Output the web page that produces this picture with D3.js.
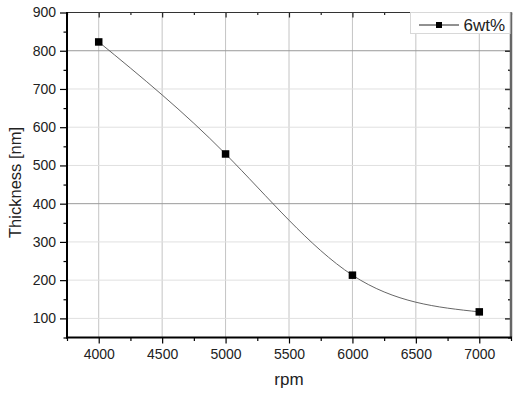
<!DOCTYPE html>
<html>
<head>
<meta charset="utf-8">
<script src="https://cdn.jsdelivr.net/npm/d3@7"></script>
<style>
  html, body { margin: 0; padding: 0; background: #fff; }
  svg { display: block; }
  text { font-family: "Liberation Sans", Arial, sans-serif; }
</style>
</head>
<body>
<svg id="chart" width="521" height="397"></svg>
<script>
// ---- data ----
const rpm = [4000, 5000, 6000, 7000];
const thickness = [823, 530, 213, 117];
const seriesName = "6wt%";
const xMajorTicks = [4000, 4500, 5000, 5500, 6000, 6500, 7000];
const xMinorTicks = [3750, 4250, 4750, 5250, 5750, 6250, 6750, 7250];
const yMajorTicks = [100, 200, 300, 400, 500, 600, 700, 800, 900];
const yMinorTicks = [50, 150, 250, 350, 450, 550, 650, 750, 850];
const yDarkGrid = [400, 800];
const xTitle = "rpm";
const yTitle = "Thickness [nm]";

// ---- layout ----
const L = 67, R = 511, T = 12.5, B = 337.5;
const svg = d3.select("#chart");
const x = d3.scaleLinear().domain([3750, 7250]).range([L, R]);
const y = d3.scaleLinear().domain([50, 900]).range([B, T]);

// gridlines
const grid = svg.append("g");
grid.selectAll("line.v").data(xMajorTicks).join("line")
  .attr("x1", d => x(d)).attr("x2", d => x(d))
  .attr("y1", T).attr("y2", B)
  .attr("stroke", "#c4c4c4").attr("stroke-width", 1);
grid.selectAll("line.h").data(yMajorTicks.filter(d => d < 900)).join("line")
  .attr("x1", L).attr("x2", R)
  .attr("y1", d => y(d)).attr("y2", d => y(d))
  .attr("stroke", d => yDarkGrid.includes(d) ? "#9a9a9a" : "#e0e0e0")
  .attr("stroke-width", 1);

// curve
const pts = rpm.map((r, i) => [r, thickness[i]]);
svg.append("path")
  .datum(pts)
  .attr("fill", "none")
  .attr("stroke", "#555")
  .attr("stroke-width", 0.9)
  .attr("d", d3.line().x(d => x(d[0])).y(d => y(d[1])).curve(d3.curveNatural));

// markers
const ms = 7.5;
svg.selectAll("rect.m").data(pts).join("rect")
  .attr("x", d => x(d[0]) - ms / 2).attr("y", d => y(d[1]) - ms / 2)
  .attr("width", ms).attr("height", ms).attr("fill", "#000");

// axes helper
function styleAxis(g, color, width) {
  g.select(".domain").remove();
  g.selectAll(".tick line").attr("stroke", color).attr("stroke-width", width);
  g.selectAll(".tick text").attr("fill", "#222").attr("font-size", "14px")
    .attr("font-family", "'Liberation Sans', Arial, sans-serif");
}

// left axis
const gl = svg.append("g").attr("transform", `translate(${L},0)`);
gl.call(d3.axisLeft(y).tickValues(yMajorTicks).tickSize(7).tickPadding(4).tickFormat(d3.format("d")));
styleAxis(gl, "#000", 1.2);
const glm = svg.append("g").attr("transform", `translate(${L},0)`);
glm.call(d3.axisLeft(y).tickValues(yMinorTicks).tickSize(3.5).tickFormat(""));
styleAxis(glm, "#000", 1.2);

// bottom axis
const gb = svg.append("g").attr("transform", `translate(0,${B})`);
gb.call(d3.axisBottom(x).tickValues(xMajorTicks).tickSize(6).tickPadding(6).tickFormat(d3.format("d")));
styleAxis(gb, "#000", 1.2);
const gbm = svg.append("g").attr("transform", `translate(0,${B})`);
gbm.call(d3.axisBottom(x).tickValues(xMinorTicks).tickSize(3.5).tickFormat(""));
styleAxis(gbm, "#000", 1.2);

// top axis (inward ticks)
const gt = svg.append("g").attr("transform", `translate(0,${T})`);
gt.call(d3.axisBottom(x).tickValues(xMajorTicks).tickSize(5).tickFormat(""));
styleAxis(gt, "#222", 1.2);
const gtm = svg.append("g").attr("transform", `translate(0,${T})`);
gtm.call(d3.axisBottom(x).tickValues(xMinorTicks).tickSize(2.5).tickFormat(""));
styleAxis(gtm, "#222", 1.2);

// right axis (inward ticks)
const gr = svg.append("g").attr("transform", `translate(${R},0)`);
gr.call(d3.axisLeft(y).tickValues(yMajorTicks).tickSize(6).tickFormat(""));
styleAxis(gr, "#333", 1.5);
const grm = svg.append("g").attr("transform", `translate(${R},0)`);
grm.call(d3.axisLeft(y).tickValues(yMinorTicks).tickSize(3).tickFormat(""));
styleAxis(grm, "#333", 1.5);

// axis lines
svg.append("line").attr("x1", L).attr("x2", R).attr("y1", T).attr("y2", T)
  .attr("stroke", "#333").attr("stroke-width", 1);
svg.append("line").attr("x1", R).attr("x2", R).attr("y1", T).attr("y2", B)
  .attr("stroke", "#666").attr("stroke-width", 2.5);
svg.append("line").attr("x1", L).attr("x2", L).attr("y1", T - 0.5).attr("y2", B + 1)
  .attr("stroke", "#000").attr("stroke-width", 2);
svg.append("line").attr("x1", L - 1).attr("x2", R + 1).attr("y1", B).attr("y2", B)
  .attr("stroke", "#000").attr("stroke-width", 2);

// legend
const lg = svg.append("g");
lg.append("rect").attr("x", 410.5).attr("y", T).attr("width", R - 411.5).attr("height", 21)
  .attr("fill", "#fff").attr("stroke", "#d8d8d8").attr("stroke-width", 1);
lg.append("line").attr("x1", 419).attr("x2", 459).attr("y1", 25).attr("y2", 25)
  .attr("stroke", "#222").attr("stroke-width", 1);
lg.append("rect").attr("x", 439 - 3).attr("y", 25 - 3).attr("width", 6).attr("height", 6).attr("fill", "#000");
lg.append("text").attr("x", 463.5).attr("y", 30.8).attr("font-size", "17px").attr("fill", "#222")
  .text(seriesName);

// titles
svg.append("text").attr("x", (L + R) / 2).attr("y", 385).attr("text-anchor", "middle")
  .attr("font-size", "17px").attr("fill", "#222").text(xTitle);
svg.append("text").attr("transform", "translate(20.5,182.5) rotate(-90)")
  .attr("text-anchor", "middle").attr("font-size", "16.5px").attr("fill", "#222").text(yTitle);
</script>
</body>
</html>
